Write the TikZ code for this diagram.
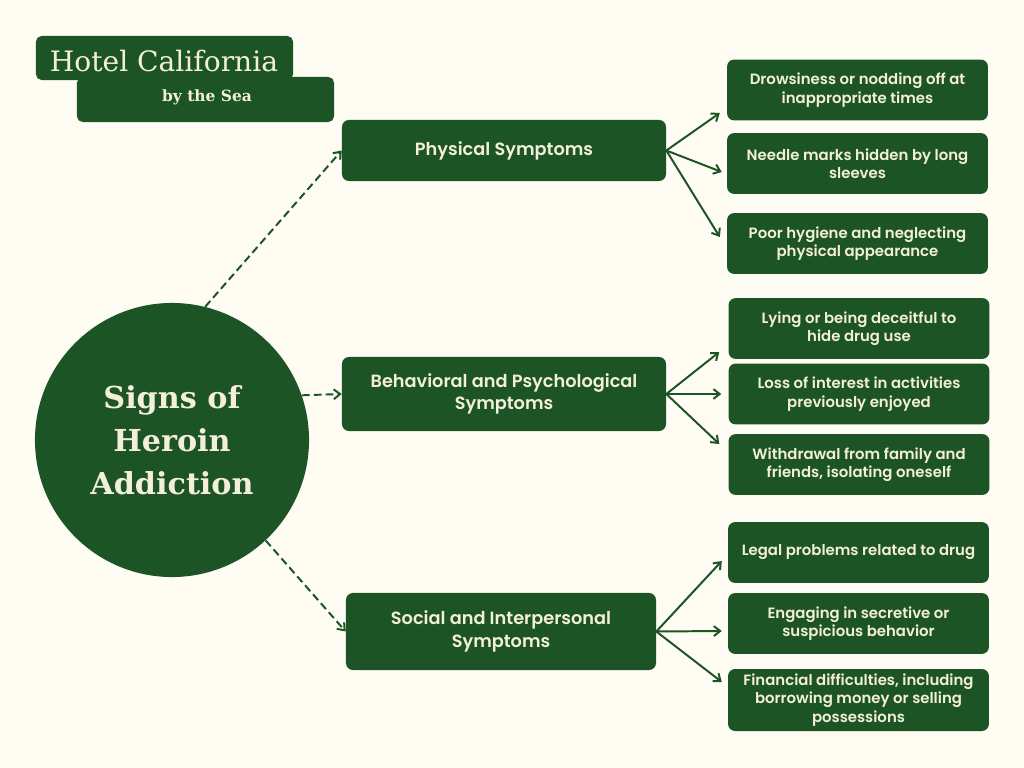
\documentclass[tikz,border=0pt]{standalone}
\usepackage{fontspec}
\setmainfont{Poppins}[BoldFont={Poppins SemiBold}]
\newfontfamily\serifx{DejaVu Serif}
\usetikzlibrary{arrows.meta,calc}
\definecolor{dg}{HTML}{1D5425}
\definecolor{bg}{HTML}{FEFCF3}
\definecolor{cream}{HTML}{F4EFDA}
\begin{document}
\begin{tikzpicture}[x=0.025cm,y=-0.025cm,
  gbox/.style={fill=dg, rounded corners=5pt, text=cream, align=center, inner sep=0pt},
  sbox/.style={gbox, minimum width=6.52cm, minimum height=1.52cm, font=\bfseries\fontsize{10.6}{13}\selectfont},
  mbox/.style={gbox, minimum width=8.1cm, font=\bfseries\fontsize{12.6}{16}\selectfont},
  dline/.style={dg, line width=1.4pt, dash pattern=on 5.5pt off 3pt, -{Straight Barb[length=4.5pt,width=7pt,line width=1.4pt]}},
  sline/.style={dg, line width=1.4pt, -{Straight Barb[length=4.5pt,width=7pt,line width=1.4pt]}}]
\useasboundingbox[fill=bg] (0,0) rectangle (1024,768);
% logo
\node[gbox, rounded corners=4pt, minimum width=6.425cm, minimum height=1.1cm] (logoA) at (164.5,58) {};
\node[gbox, rounded corners=4pt, minimum width=6.425cm, minimum height=1.125cm] (logoB) at (205.5,99.5) {};
\node[text=cream, font=\serifx\fontsize{20}{24}\selectfont, inner sep=0pt] (logoT) at (164,61) {Hotel California};
\node[text=cream, font=\serifx\bfseries\fontsize{11}{14}\selectfont, inner sep=0pt] (logoS) at (207,97) {by the Sea};
% circle
\node[circle, fill=dg, minimum size=6.85cm, inner sep=0pt, text=cream, align=center,
  font=\serifx\bfseries\fontsize{21.5}{30.5}\selectfont] (circ) at (172,440) {Signs of\\Heroin\\Addiction};
% middle boxes
\node[mbox, minimum height=1.525cm] (phys) at (504,150.5) {Physical Symptoms};
\node[mbox, minimum height=1.85cm] (beh) at (504,394) {Behavioral and Psychological\\Symptoms};
\node[mbox, minimum width=7.75cm, minimum height=1.925cm] (soc) at (501,631.5) {Social and Interpersonal\\Symptoms};
% right boxes
\node[sbox] (dr) at (857.5,90) {Drowsiness or nodding off at\\inappropriate times};
\node[sbox] (ne) at (857.5,163.5) {Needle marks hidden by long\\sleeves};
\node[sbox] (po) at (857.5,243.5) {Poor hygiene and neglecting\\physical appearance};
\node[sbox] (ly) at (859,328.5) {Lying or being deceitful to\\hide drug use};
\node[sbox] (lo) at (859,394) {Loss of interest in activities\\previously enjoyed};
\node[sbox] (wi) at (859,464.5) {Withdrawal from family and\\friends, isolating oneself};
\node[sbox] (le) at (858.5,552.5) {Legal problems related to drug};
\node[sbox] (en) at (858.5,623.5) {Engaging in secretive or\\suspicious behavior};
\node[sbox, minimum height=1.55cm] (fi) at (858.5,700) {Financial difficulties, including\\borrowing money or selling\\possessions};
% dashed connectors
\draw[dline] (circ.76) -- (phys.west);
\draw[dline] (circ.19) -- (beh.west);
\draw[dline] (circ.-47) -- (soc.west);
% solid connectors
\draw[sline] (phys.east) -- ($(dr.west)+(-7,23)$);
\draw[sline] (phys.east) -- ($(ne.west)+(-5,8.5)$);
\draw[sline] (phys.east) -- ($(po.west)+(-7,-6.5)$);
\draw[sline] (beh.east) -- ($(ly.west)+(-9,23.5)$);
\draw[sline] (beh.east) -- ($(lo.west)+(-7,0)$);
\draw[sline] (beh.east) -- ($(wi.west)+(-9,-20.5)$);
\draw[sline] (soc.east) -- ($(le.west)+(-6,8.5)$);
\draw[sline] (soc.east) -- ($(en.west)+(-6,7.5)$);
\draw[sline] (soc.east) -- ($(fi.west)+(-6,-18)$);
\end{tikzpicture}
\end{document}
